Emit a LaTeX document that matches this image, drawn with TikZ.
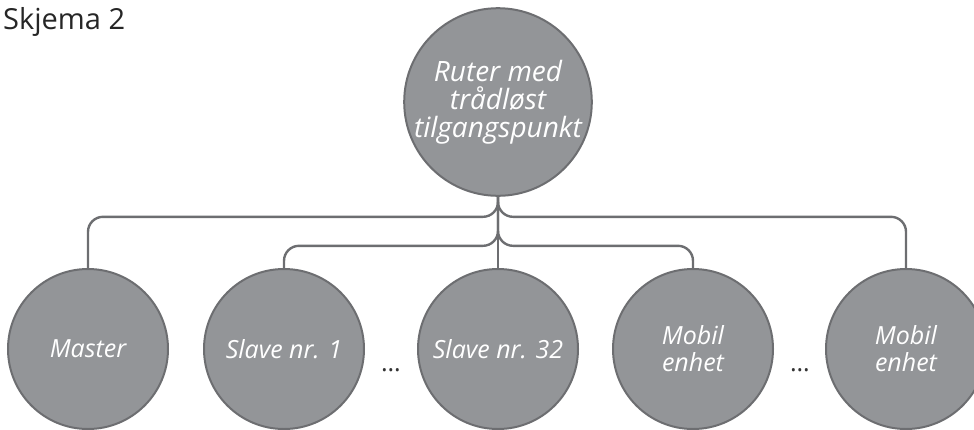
\documentclass[tikz,border=0pt]{standalone}
\usepackage{fontspec}
\setmainfont{Open Sans}
\definecolor{nodefill}{RGB}{147,149,152}
\definecolor{nodeline}{RGB}{109,110,113}
\tikzset{
    unit/.style={circle, fill=nodefill, draw=nodeline, line width=2pt,
        minimum size=#1, inner sep=0pt, align=center, text=white,
        font=\fontsize{25}{27}\selectfont\itshape},
    unit/.default=160pt,
    link/.style={draw=nodeline, line width=2.4pt, rounded corners=15pt}
}
\begin{document}
\begin{tikzpicture}[x=1pt, y=-1pt]
    \useasboundingbox (0,0) rectangle (974,429);

    % Title
    \node[anchor=base west, inner sep=0pt, text=black!85,
          font=\fontsize{29}{33}\selectfont] (title) at (3,29) {Skjema 2};

    % Router
    \node[unit=182pt, font=\fontsize{28}{28}\selectfont\itshape] (ruter) at (498,102)
        {Ruter med\\trådløst\\tilgangspunkt};

    % Devices
    \node[unit] (master) at (88,349) {Master};
    \node[unit] (slave1) at (284,349) {Slave nr. 1};
    \node[unit] (slave32) at (498,349) {Slave nr. 32};
    \node[unit] (mobil1) at (693,349) {Mobil\\enhet};
    \node[unit] (mobil2) at (906,349) {Mobil\\enhet};

    % Dots
    \node[text=black!80, font=\fontsize{25}{27}\selectfont] (dotsA) at (391,370) {…};
    \node[text=black!80, font=\fontsize{25}{27}\selectfont] (dotsB) at (800,370) {…};

    % Links
    \draw[link] (ruter.south) -- ++(0,20) -| (master.north);
    \draw[link] (ruter.south) -- ++(0,20) -| (mobil2.north);
    \draw[link] (ruter.south) -- ++(0,49) -| (slave1.north);
    \draw[link] (ruter.south) -- ++(0,49) -| (mobil1.north);
    \draw[link] (ruter.south) -- (slave32.north);
\end{tikzpicture}
\end{document}
